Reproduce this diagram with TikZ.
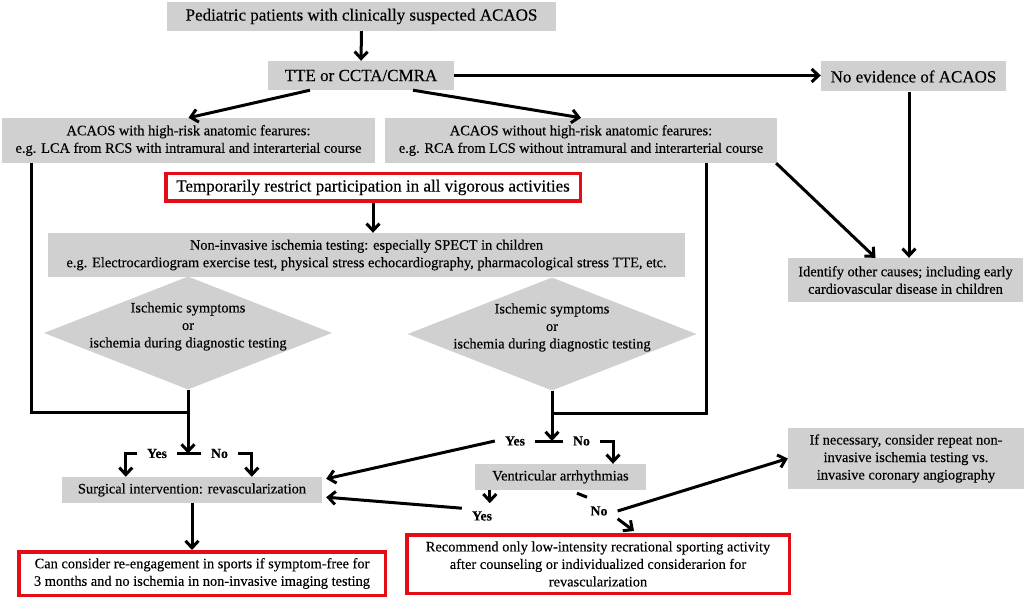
\documentclass[tikz,border=0pt]{standalone}
\usepackage{fontspec}
\setmainfont{Liberation Serif}[FakeBold=0.25]
\usetikzlibrary{arrows.meta,shapes.geometric,calc}
\definecolor{boxgray}{RGB}{208,208,208}
\definecolor{boxred}{RGB}{228,12,22}
\begin{document}
\begin{tikzpicture}[x=1pt,y=-1pt,
  sz/.style n args={2}{minimum width=#1pt, minimum height=#2pt},
  gbox/.style={fill=boxgray, inner sep=0pt, align=center},
  rbox/.style={draw=boxred, line width=3.5pt, fill=white, inner sep=0pt, align=center},
  big/.style={font=\fontsize{17}{20}\selectfont},
  small/.style={font=\fontsize{14.4}{17.5}\selectfont},
  lab/.style={font=\fontsize{13.8}{16}\selectfont\bfseries, inner xsep=10pt, inner ysep=3pt},
  dia/.style={diamond, fill=boxgray, inner sep=0pt},
  conn/.style={line width=3pt},
  arr/.style={conn, -{Straight Barb[length=7pt,width=13pt]}},
]
\useasboundingbox (0,0) rectangle (1026,599);
\fill[white] (0,0) rectangle (1026,599);

% boxes
\node[gbox,big,sz={389}{29}] (top) at (361.5,16.5) {Pediatric patients with clinically suspected ACAOS};
\node[gbox,big,sz={186}{29}] (tte) at (361,75.5) {TTE or CCTA/CMRA};
\node[gbox,big,sz={185}{30}] (noev) at (913.5,76.5) {No evidence of ACAOS};
\node[gbox,small,sz={373}{45}] (lacaos) at (188.5,140.5) {ACAOS with high-risk anatomic fearures:\\e.g. LCA from RCS with intramural and interarterial course};
\node[gbox,small,sz={392}{45}] (racaos) at (581,140.5) {ACAOS without high-risk anatomic fearures:\\e.g. RCA from LCS without intramural and interarterial course};
\node[rbox,big,sz={414.5}{27.5}] (red1) at (373,187.5) {Temporarily restrict participation in all vigorous activities};
\node[gbox,small,sz={637}{44}] (nonin) at (366.5,255) {Non-invasive ischemia testing: especially SPECT in children\\e.g. Electrocardiogram exercise test, physical stress echocardiography, pharmacological stress TTE, etc.};
\node[gbox,small,sz={235}{44}] (ident) at (905.5,280) {Identify other causes; including early\\cardiovascular disease in children};
\node[dia,sz={288}{113}] (ldia) at (188,333) {};
\node[small,align=center,inner sep=0pt] (ldiat) at (188,326.5) {Ischemic symptoms\\or\\ischemia during diagnostic testing};
\node[dia,sz={289}{113}] (rdia) at (552,334) {};
\node[small,align=center,inner sep=0pt] (rdiat) at (552,327.5) {Ischemic symptoms\\or\\ischemia during diagnostic testing};
\node[gbox,small,sz={260}{26}] (surg) at (192,490) {Surgical intervention: revascularization};
\node[rbox,small,sz={366.5}{43.5}] (red2) at (202,573.5) {Can consider re-engagement in sports if symptom-free for\\3 months and no ischemia in non-invasive imaging testing};
\node[gbox,small,sz={171}{26}] (vent) at (560.5,477) {Ventricular arrhythmias};
\node[rbox,small,sz={382.5}{58.5}] (red3) at (598,564) {Recommend only low-intensity recrational sporting activity\\after counseling or individualized considerarion for\\revascularization};
\node[gbox,small,sz={236}{61}] (ifnec) at (906,458.5) {If necessary, consider repeat non-\\invasive ischemia testing vs.\\invasive coronary angiography};

% labels
\node[lab] (lyes) at (157,453.5) {Yes};
\node[lab] (lno) at (219.5,453.5) {No};
\node[lab] (ryes) at (515,441) {Yes};
\node[lab] (rno) at (581.5,441) {No};
\node[lab] (vyes) at (482,516) {Yes};
\node[lab] (vno) at (599,511) {No};

% connectors top
\draw[arr] (top.south) -- (tte.north);
\draw[arr] (tte.east) -- (tte.east -| noev.west);
\draw[arr] ($(tte.south)+(-51,0)$) -- (lacaos.north);
\draw[arr] ($(tte.south)+(52,0)$) -- (racaos.north);
\coordinate (nv) at ($(noev.south)+(-4.5,0)$);
\draw[arr] (nv) -- (nv |- ident.north);
\draw[arr] ($(racaos.south east)+(-1,0)$) -- ($(ident.north)+(-30,0)$);
\draw[arr] (red1.south) -- (red1.south |- nonin.north);

% left branch
\coordinate (lv) at ($(lacaos.south west)+(30,0)$);
\path (ldia.south) ++(0,23) coordinate (lj);
\draw[conn] (lv) |- (lj);
\draw[arr] (ldia.south) -- (ldia.south |- lyes.east);
\draw[conn] (lyes.east) -- (lno.west);
\draw[arr] (lyes.west) -| ($(surg.north west)+(64,0)$);
\draw[arr] (lno.east) -| ($(surg.north west)+(190,0)$);
\draw[arr] (surg.south) -- (surg.south |- red2.north);

% right branch
\coordinate (rv) at ($(racaos.south west)+(322,0)$);
\path (rdia.south) ++(0,22.5) coordinate (rj);
\draw[conn] (rv) |- (rj);
\draw[arr] (rdia.south) -- (rdia.south |- ryes.east);
\draw[conn] (ryes.east) -- (rno.west);
\draw[arr] (rno.east) -| ($(vent.north)+(52.5,0)$);
\draw[arr] (ryes.west) -- ($(surg.north east)+(4,2)$);
\draw[arr] ($(vent.south west)+(15,0)$) -- ++(0,13);
\draw[arr] (vyes.north west) -- ($(surg.south east)+(4,-6)$);
\draw[conn] ($(vent.south)+(16.5,3)$) -- ++(10,4);
\draw[arr] (vno.east) -- (ifnec.west);
\draw[arr] (vno.south east) -- ($(red3.north)+(36,-2)$);
\end{tikzpicture}
\end{document}
